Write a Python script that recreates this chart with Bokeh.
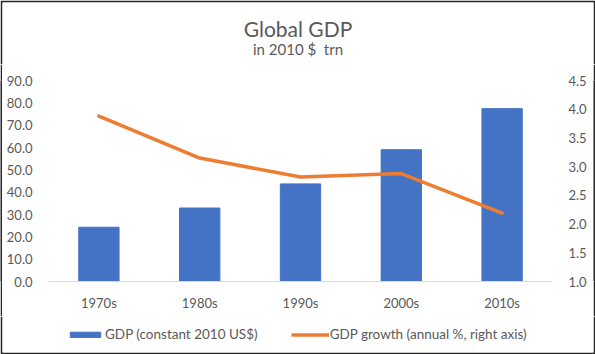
from bokeh.plotting import figure
from bokeh.models import (FactorRange, Range1d, LinearAxis, FixedTicker, NumeralTickFormatter,
                          Legend, LegendItem)
from bokeh.layouts import column, row
from bokeh.core.properties import value
from bokeh.embed import file_html
from bokeh.resources import INLINE

categories = ["1970s", "1980s", "1990s", "2000s", "2010s"]
gdp = [24.3, 32.9, 43.7, 59.0, 77.4]
growth = [3.88, 3.15, 2.82, 2.88, 2.19]
left_ticks = [0, 10, 20, 30, 40, 50, 60, 70, 80, 90]
right_ticks = [1.0, 1.5, 2.0, 2.5, 3.0, 3.5, 4.0, 4.5]
title_text = "Global GDP"
subtitle_text = "in 2010 $\u00a0 trn"
bar_label = "GDP (constant 2010 US$)"
line_label = "GDP growth (annual %, right axis)"

FONT = "Lato"
GREY = "#595959"
BLUE = "#4472C4"
ORANGE = "#ED7D31"
DARK = "#262626"


def quiet_title(fig):
    fig.title.text_font_size = "1px"
    fig.title.standoff = 0
    fig.title.offset = 0


def blank(width, height, **kw):
    f = figure(width=width, height=height, output_backend="svg", toolbar_location=None,
               x_axis_location=None, y_axis_location=None, **kw)
    f.outline_line_color = None
    f.xgrid.visible = False
    f.ygrid.visible = False
    quiet_title(f)
    return f


# ---- title strip (top border drawn by its dark border fill) ----
tf = blank(595, 64, x_range=Range1d(2, 593), y_range=Range1d(64, 2),
           min_border_left=2, min_border_right=2, min_border_top=2, min_border_bottom=0)
tf.border_fill_color = DARK
tf.background_fill_color = "white"
tf.text(x=[297.5], y=[27.5], text=[title_text], text_align="center", text_baseline="alphabetic",
        text_font=value(FONT), text_font_size="21px", text_color=GREY)
tf.text(x=[297.5], y=[48.5], text=[subtitle_text], text_align="center", text_baseline="alphabetic",
        text_font=value(FONT), text_font_size="15px", text_color=GREY)

# ---- main chart ----
p = figure(width=591, height=252, output_backend="svg", toolbar_location=None,
           x_range=FactorRange(*categories, range_padding=0),
           y_range=Range1d(0, 90),
           min_border_left=46, min_border_right=41, min_border_top=16, min_border_bottom=35,
           y_axis_location=None)
quiet_title(p)
p.extra_y_ranges = {"growth": Range1d(1.0, 4.5)}
p.outline_line_color = None
p.xgrid.visible = False
p.ygrid.visible = False
p.background_fill_color = "white"
p.border_fill_color = "white"

p.vbar(x=categories, top=gdp, width=0.4, color=BLUE)
p.line(x=categories, y=growth, y_range_name="growth", color=ORANGE, line_width=3.5,
       line_join="round", line_cap="round")

xa = p.xaxis[0]
xa.axis_line_color = "#D9D9D9"
xa.major_tick_line_color = None
xa.minor_tick_line_color = None
xa.major_label_standoff = 7
xa.major_label_text_font = FONT
xa.major_label_text_font_size = "13px"
xa.major_label_text_color = GREY

la = LinearAxis(ticker=FixedTicker(ticks=left_ticks), formatter=NumeralTickFormatter(format="0.0"))
ra = LinearAxis(y_range_name="growth", ticker=FixedTicker(ticks=right_ticks),
                formatter=NumeralTickFormatter(format="0.0"))
for ax, so in ((la, 10), (ra, 10)):
    ax.axis_line_color = None
    ax.major_tick_line_color = None
    ax.minor_tick_line_color = None
    ax.major_label_standoff = so
    ax.major_label_text_font = FONT
    ax.major_label_text_font_size = "13px"
    ax.major_label_text_color = GREY
p.add_layout(la, "left")
p.add_layout(ra, "right")

# side borders
lb = blank(2, 252, min_border=0)
rb = blank(2, 252, min_border=0)
for b in (lb, rb):
    b.border_fill_color = DARK
    b.background_fill_color = DARK

# ---- legend strip (bottom border drawn by its dark border fill) ----
# the legend's sample renderers reuse the data but are hidden in this strip
lf = blank(595, 38, x_range=FactorRange(*categories), y_range=Range1d(-2, -1),
           min_border_left=2, min_border_right=2, min_border_top=0, min_border_bottom=2)
lf.border_fill_color = DARK
lf.background_fill_color = "white"
r_bar = lf.vbar(x=categories, top=gdp, width=0.4, color=BLUE)
r_line = lf.line(x=categories, y=growth, color=ORANGE, line_width=3.5)
r_bar.visible = False
r_line.visible = False
legend = Legend(items=[LegendItem(label=bar_label, renderers=[r_bar]),
                       LegendItem(label=line_label, renderers=[r_line])],
                orientation="horizontal", location=(64, 10),
                glyph_width=38, glyph_height=7, label_standoff=1, spacing=33,
                padding=0, margin=0, label_height=14,
                border_line_color=None, background_fill_alpha=0,
                label_text_font=FONT, label_text_font_size="13.5px", label_text_color=GREY)
lf.add_layout(legend, "center")

layout = column(tf, row(lb, p, rb), lf)
open("out.html", "w").write(file_html(layout, INLINE))
